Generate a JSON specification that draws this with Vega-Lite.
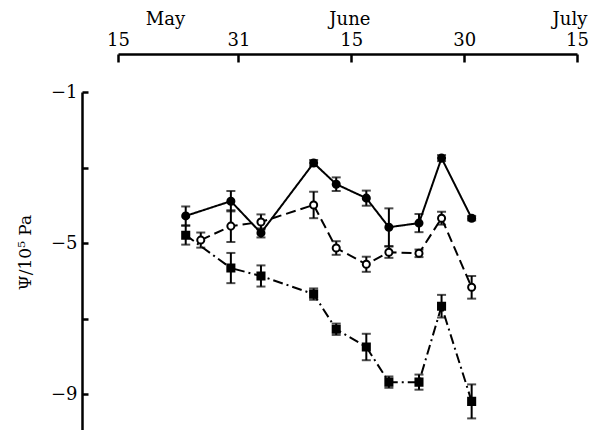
{
  "$schema": "https://vega.github.io/schema/vega-lite/v6.json",
  "width": 459,
  "height": 340,
  "autosize": "none",
  "padding": {"left": 118, "top": 92, "right": 20, "bottom": 0},
  "background": "white",
  "config": {
    "view": {"stroke": null},
    "font": "DejaVu Serif",
    "axis": {"grid": false, "labelFont": "DejaVu Serif", "titleFont": "DejaVu Serif", "labelColor": "black", "domainColor": "black", "tickColor": "black", "titleColor": "black"}
  },
  "data": {"values": [
    {"series": "A", "date": "2000-05-24", "value": -4.28, "lo": -4.53, "hi": -4.03},
    {"series": "A", "date": "2000-05-30", "value": -3.89, "lo": -4.16, "hi": -3.62},
    {"series": "A", "date": "2000-06-03", "value": -4.73, "lo": -4.85, "hi": -4.61},
    {"series": "A", "date": "2000-06-10", "value": -2.88, "lo": -2.96, "hi": -2.80},
    {"series": "A", "date": "2000-06-13", "value": -3.44, "lo": -3.62, "hi": -3.26},
    {"series": "A", "date": "2000-06-17", "value": -3.81, "lo": -4.01, "hi": -3.61},
    {"series": "A", "date": "2000-06-20", "value": -4.58, "lo": -5.08, "hi": -4.08},
    {"series": "A", "date": "2000-06-24", "value": -4.47, "lo": -4.71, "hi": -4.23},
    {"series": "A", "date": "2000-06-27", "value": -2.75, "lo": -2.83, "hi": -2.67},
    {"series": "A", "date": "2000-07-01", "value": -4.34, "lo": -4.40, "hi": -4.28},
    {"series": "B", "date": "2000-05-26", "value": -4.92, "lo": -5.12, "hi": -4.72},
    {"series": "B", "date": "2000-05-30", "value": -4.55, "lo": -4.97, "hi": -4.13},
    {"series": "B", "date": "2000-06-03", "value": -4.44, "lo": -4.64, "hi": -4.24},
    {"series": "B", "date": "2000-06-10", "value": -3.99, "lo": -4.34, "hi": -3.64},
    {"series": "B", "date": "2000-06-13", "value": -5.13, "lo": -5.31, "hi": -4.95},
    {"series": "B", "date": "2000-06-17", "value": -5.56, "lo": -5.76, "hi": -5.36},
    {"series": "B", "date": "2000-06-20", "value": -5.24, "lo": -5.39, "hi": -5.09},
    {"series": "B", "date": "2000-06-24", "value": -5.27, "lo": -5.37, "hi": -5.17},
    {"series": "B", "date": "2000-06-27", "value": -4.34, "lo": -4.51, "hi": -4.17},
    {"series": "B", "date": "2000-07-01", "value": -6.17, "lo": -6.47, "hi": -5.87},
    {"series": "C", "date": "2000-05-24", "value": -4.79, "lo": -5.04, "hi": -4.54},
    {"series": "C", "date": "2000-05-30", "value": -5.66, "lo": -6.06, "hi": -5.26},
    {"series": "C", "date": "2000-06-03", "value": -5.87, "lo": -6.15, "hi": -5.59},
    {"series": "C", "date": "2000-06-10", "value": -6.35, "lo": -6.50, "hi": -6.20},
    {"series": "C", "date": "2000-06-13", "value": -7.28, "lo": -7.43, "hi": -7.13},
    {"series": "C", "date": "2000-06-17", "value": -7.75, "lo": -8.10, "hi": -7.40},
    {"series": "C", "date": "2000-06-20", "value": -8.68, "lo": -8.83, "hi": -8.53},
    {"series": "C", "date": "2000-06-24", "value": -8.68, "lo": -8.88, "hi": -8.48},
    {"series": "C", "date": "2000-06-27", "value": -6.67, "lo": -6.97, "hi": -6.37},
    {"series": "C", "date": "2000-07-01", "value": -9.19, "lo": -9.64, "hi": -8.74}
  ]},
  "layer": [
    {
      "mark": {"type": "line", "color": "black", "strokeWidth": 2},
      "encoding": {
        "x": {"field": "date", "type": "temporal",
          "scale": {"type": "utc", "domain": ["2000-05-15", "2000-07-15"]},
          "axis": {"orient": "top", "offset": 38, "title": null,
            "values": [{"year": 2000, "month": 5, "date": 15, "utc": true}, {"year": 2000, "month": 5, "date": 31, "utc": true}, {"year": 2000, "month": 6, "date": 15, "utc": true}, {"year": 2000, "month": 6, "date": 30, "utc": true}, {"year": 2000, "month": 7, "date": 15, "utc": true}],
            "labelExpr": "utcFormat(datum.value, '%-d')",
            "labelFontSize": 18, "labelPadding": 13, "labelAngle": 0, "labelFlush": false, "labelOverlap": false,
            "tickSize": -8, "tickWidth": 2.5, "domainWidth": 2.5}},
        "y": {"field": "value", "type": "quantitative",
          "scale": {"domain": [-10, -1], "nice": false, "zero": false},
          "axis": {"offset": 36, "values": [-1, -3, -5, -7, -9],
            "labelExpr": "datum.value % 4 == -1 ? datum.label : ''",
            "labelFontSize": 18, "labelPadding": 11, "tickSize": -6, "tickWidth": 2.5, "domainWidth": 2.5,
            "title": "Ψ/10⁵ Pa", "titleFontSize": 17, "titleFontWeight": "normal",
            "titleAngle": -90, "titleX": -57, "titleY": 160, "titleAlign": "center", "titleBaseline": "middle"}},
        "strokeDash": {"field": "series", "type": "nominal",
          "scale": {"domain": ["A", "B", "C"], "range": [[1, 0], [10, 5], [10, 4, 2, 4]]}, "legend": null},
        "detail": {"field": "series"}
      }
    },
    {
      "mark": {"type": "rule", "color": "black", "strokeWidth": 2},
      "encoding": {
        "x": {"field": "date", "type": "temporal",
          "axis": {"orient": "top", "offset": 64, "title": null, "domain": false, "ticks": false,
            "values": [{"year": 2000, "month": 5, "date": 21, "hours": 6, "utc": true}, {"year": 2000, "month": 6, "date": 14, "hours": 18, "utc": true}, {"year": 2000, "month": 7, "date": 14, "hours": 0, "utc": true}],
            "labelExpr": "utcFormat(datum.value, '%B')", "labelFontSize": 18, "labelPadding": 0, "labelAngle": 0, "labelFlush": false, "labelOverlap": false}},
        "y": {"field": "lo", "type": "quantitative"},
        "y2": {"field": "hi"}
      }
    },
    {
      "mark": {"type": "tick", "orient": "horizontal", "color": "black", "thickness": 2, "size": 9},
      "encoding": {
        "x": {"field": "date", "type": "temporal", "axis": null},
        "y": {"field": "lo", "type": "quantitative"}
      }
    },
    {
      "mark": {"type": "tick", "orient": "horizontal", "color": "black", "thickness": 2, "size": 9},
      "encoding": {
        "x": {"field": "date", "type": "temporal", "axis": null},
        "y": {"field": "hi", "type": "quantitative"}
      }
    },
    {
      "mark": {"type": "point", "filled": true, "stroke": "black", "strokeWidth": 2, "opacity": 1},
      "encoding": {
        "x": {"field": "date", "type": "temporal", "axis": null},
        "y": {"field": "value", "type": "quantitative"},
        "shape": {"field": "series", "type": "nominal", "scale": {"domain": ["A", "B", "C"], "range": ["circle", "circle", "square"]}, "legend": null},
        "fill": {"field": "series", "type": "nominal", "scale": {"domain": ["A", "B", "C"], "range": ["black", "white", "black"]}, "legend": null},
        "size": {"value": 50}
      }
    }
  ],
  "resolve": {"axis": {"x": "independent"}}
}
